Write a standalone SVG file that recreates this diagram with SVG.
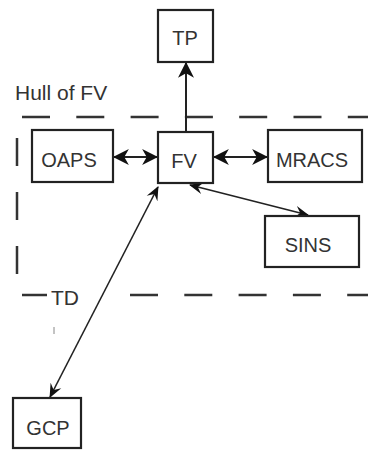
<svg xmlns="http://www.w3.org/2000/svg" width="368" height="450" viewBox="0 0 368 450">
<style>
.box{fill:#fff;stroke:#222;stroke-width:2.2}
.lbl{font-family:"Liberation Sans",Arial,sans-serif;font-size:20px;fill:#333;text-anchor:middle}
.free{font-family:"Liberation Sans",Arial,sans-serif;font-size:21px;fill:#333}
.dash{stroke:#333;stroke-width:2.5;fill:none}
.con{stroke:#222;fill:none}
</style>
<defs>
<marker id="ah" viewBox="0 0 14 14" refX="13" refY="7" markerWidth="16" markerHeight="16" markerUnits="userSpaceOnUse" orient="auto-start-reverse">
<path d="M0,0 L14,7 L0,14 L4,7 z" fill="#111"/>
</marker>
<marker id="ahs" viewBox="0 0 14 14" refX="13" refY="7" markerWidth="14" markerHeight="14" markerUnits="userSpaceOnUse" orient="auto-start-reverse">
<path d="M0,1 L14,7 L0,13 L5,7 z" fill="#111"/>
</marker>
</defs>
<g id="hull">
<line class="dash" x1="22" y1="117" x2="368" y2="117" stroke-dasharray="28 26.3"/>
<line class="dash" x1="17" y1="138" x2="17" y2="278" stroke-dasharray="28 26"/>
<line class="dash" x1="22" y1="295" x2="47" y2="295"/>
<line class="dash" x1="130" y1="295" x2="368" y2="295" stroke-dasharray="28 26.3"/>
<text class="free" x="15" y="100">Hull of FV</text>
<text class="free" x="51" y="305">TD</text>
<line x1="54" y1="327" x2="54" y2="334" stroke="#888" stroke-width="1"/>
</g>
<g id="connectors">
<line class="con" stroke-width="2" x1="186" y1="131" x2="186" y2="63" marker-end="url(#ah)"/>
<line class="con" stroke-width="2" x1="114" y1="157" x2="157" y2="157" marker-start="url(#ah)" marker-end="url(#ah)"/>
<line class="con" stroke-width="2" x1="214" y1="157" x2="267" y2="157" marker-start="url(#ah)" marker-end="url(#ah)"/>
<line class="con" stroke-width="1.6" x1="190" y1="185" x2="308" y2="215" marker-start="url(#ahs)" marker-end="url(#ahs)"/>
<line class="con" stroke-width="1.6" x1="158" y1="187" x2="50" y2="397" marker-start="url(#ahs)" marker-end="url(#ahs)"/>
</g>
<g id="TP"><rect class="box" x="158" y="10" width="55" height="52"/><text class="lbl" x="185" y="45">TP</text></g>
<g id="OAPS"><rect class="box" x="32" y="130" width="81" height="52"/><text class="lbl" x="69" y="167">OAPS</text></g>
<g id="FV"><rect class="box" x="158" y="132" width="55" height="51"/><text class="lbl" x="184" y="168">FV</text></g>
<g id="MRACS"><rect class="box" x="268" y="130" width="94" height="52"/><text class="lbl" x="312" y="167">MRACS</text></g>
<g id="SINS"><rect class="box" x="265" y="216" width="94" height="51"/><text class="lbl" x="308" y="252">SINS</text></g>
<g id="GCP"><rect class="box" x="13" y="398" width="68" height="50"/><text class="lbl" x="48" y="435">GCP</text></g>
</svg>
